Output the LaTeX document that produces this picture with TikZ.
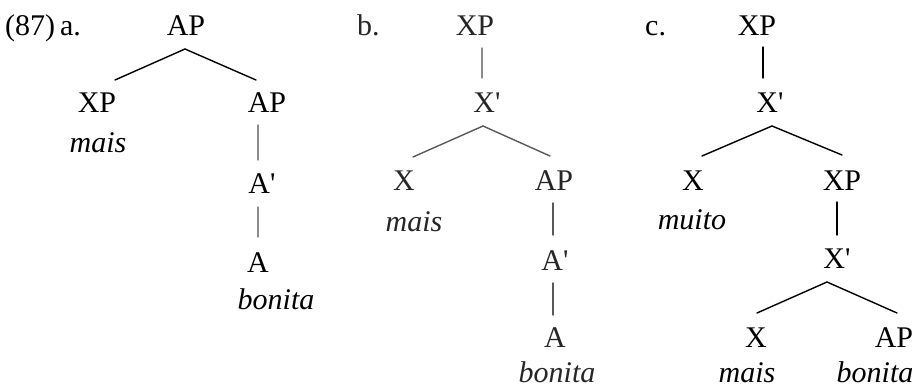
\documentclass[tikz,border=0pt]{standalone}
\usepackage{fontspec}
\setmainfont{Liberation Serif}
\usetikzlibrary{calc}
\tikzset{
  lab/.style={anchor=base, inner sep=0pt, font=\fontsize{30}{32}\selectfont},
  wrd/.style={anchor=base, inner sep=0pt, font=\fontsize{30}{32}\selectfont\itshape},
  br/.style={line width=1.4pt, line cap=round},
  lightbr/.style={br, draw=black!45},
  midbr/.style={br, draw=black!65}
}
\newcommand{\pr}{\textquotesingle}
\begin{document}
\begin{tikzpicture}[x=1pt,y=-1pt]
\useasboundingbox (0,0) rectangle (919,388);
\fill[white] (0,0) rectangle (919,388);

% ---- (87) a.
\node[lab, anchor=base west] (ex) at (5,35) {(87)\kern5pt a.};
\node[lab] (aAP) at (186,35) {AP};
\node[lab] (aXP) at (97,112) {XP};
\node[wrd] (amais) at (98,152) {mais};
\node[lab] (aAP2) at (267,112) {AP};
\node[lab] (aAb) at (262,193) {A\pr};
\node[lab] (aA) at (258,272) {A};
\node[wrd] (abonita) at (276,309) {bonita};

\draw[br] ($(aAP.base)+(-1,14)$) -- ($(aXP.base)+(18,-32)$);
\draw[br] ($(aAP.base)+(-1,14)$) -- ($(aAP2.base)+(-11,-32)$);
\draw[lightbr] ($(aAP2.base)+(-9,13)$) -- ($(aAb.base)+(-4,-33)$);
\draw[lightbr] ($(aAb.base)+(-4,14)$) -- ($(aA.base)+(0,-35)$);

% ---- b.
\begin{scope}[black!85]
\node[lab, anchor=base west] (bl) at (357,35) {b.};
\node[lab] (bXP) at (475,35) {XP};
\node[lab] (bXb) at (487,112) {X\pr};
\node[lab] (bX) at (404,190) {X};
\node[wrd] (bmais) at (414,231) {mais};
\node[lab] (bAP) at (554,190) {AP};
\node[lab] (bAb) at (555,270) {A\pr};
\node[lab] (bA) at (555,347) {A};
\node[wrd] (bbonita) at (557,382) {bonita};
\end{scope}

\draw[lightbr] ($(bXP.base)+(7,13)$) -- ($(bXb.base)+(-5,-34)$);
\draw[midbr] ($(bXb.base)+(-4,14)$) -- ($(bX.base)+(9,-33)$);
\draw[midbr] ($(bXb.base)+(-4,14)$) -- ($(bAP.base)+(-4,-34)$);
\draw[midbr] ($(bAP.base)+(-1,13)$) -- ($(bAb.base)+(-2,-35)$);
\draw[midbr] ($(bAb.base)+(-2,13)$) -- ($(bA.base)+(-2,-32)$);

% ---- c.
\node[lab, anchor=base west] (cl) at (645,35) {c.};
\node[lab] (cXP) at (757,35) {XP};
\node[lab] (cXb) at (770,112) {X\pr};
\node[lab] (cX) at (693,190) {X};
\node[wrd] (cmuito) at (692,229) {muito};
\node[lab] (cXP2) at (842,190) {XP};
\node[lab] (cXb2) at (837,268) {X\pr};
\node[lab] (cX2) at (756,347) {X};
\node[wrd] (cmais) at (747,382) {mais};
\node[lab] (cAP) at (894,347) {AP};
\node[wrd] (cbonita) at (875,382) {bonita};

\draw[br] ($(cXP.base)+(6,12)$) -- ($(cXb.base)+(-7,-34)$);
\draw[br] ($(cXb.base)+(2,14)$) -- ($(cX.base)+(9,-34)$);
\draw[br] ($(cXb.base)+(2,14)$) -- ($(cXP2.base)+(0,-35)$);
\draw[br] ($(cXP2.base)+(-5,12)$) -- ($(cXb2.base)+(0,-33)$);
\draw[br] ($(cXb2.base)+(-10,14)$) -- ($(cX2.base)+(1,-34)$);
\draw[br] ($(cXb2.base)+(-10,14)$) -- ($(cAP.base)+(3,-34)$);
\end{tikzpicture}
\end{document}
